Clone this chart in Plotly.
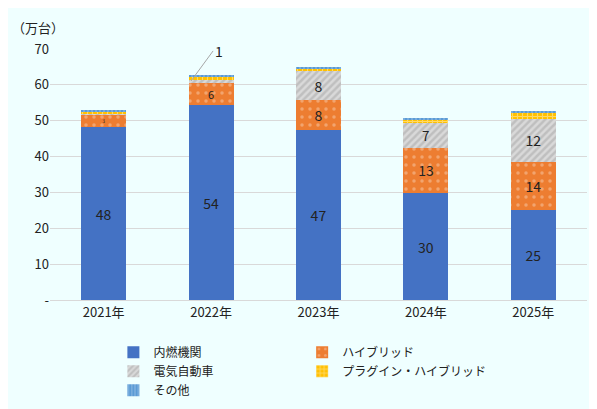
import plotly.graph_objects as go

years = ["2021年", "2022年", "2023年", "2024年", "2025年"]
ice = [48.2, 54.3, 47.5, 29.8, 25.1]
hev = [3.6, 6.1, 8.3, 12.7, 13.4]
bev = [0.1, 1.0, 8.0, 7.0, 12.1]
phev = [0.6, 1.0, 0.8, 0.8, 1.7]
other = [0.4, 0.4, 0.4, 0.4, 0.5]
ice_lbl = ["48", "54", "47", "30", "25"]
hev_lbl = ["3", "6", "8", "13", "14"]
bev_lbl = ["", "", "8", "7", "12"]
yticks = [0, 10, 20, 30, 40, 50, 60, 70]
ytext = ["-", "10", "20", "30", "40", "50", "60", "70"]

font = "Noto Sans CJK JP"
lbl = dict(textposition="inside", insidetextanchor="middle", textangle=0,
           textfont=dict(color="#222", size=14))
fig = go.Figure()
fig.add_bar(x=years, y=ice, name="内燃機関", marker_color="#4472C4", text=ice_lbl, **lbl)
fig.add_bar(x=years, y=hev, name="ハイブリッド", marker=dict(color="#ED7D31",
            pattern=dict(shape=".", fgcolor="#F8CBAD", size=8, solidity=0.15)), text=hev_lbl, **lbl)
fig.add_bar(x=years, y=bev, name="電気自動車", marker=dict(color="#D9D9D9",
            pattern=dict(shape="/", fgcolor="#A5A5A5", size=5, solidity=0.5)), text=bev_lbl, **lbl)
fig.add_bar(x=years, y=phev, name="プラグイン・ハイブリッド", marker=dict(color="#FFC000",
            pattern=dict(shape="+", fgcolor="#FFF2CC", size=5, solidity=0.4)))
fig.add_bar(x=years, y=other, name="その他", marker=dict(color="#5B9BD5",
            pattern=dict(shape="|", fgcolor="#BDD7EE", size=4, solidity=0.3)))
for t in fig.data:
    t.marker.line.width = 0
fig.add_annotation(x=years[1], y=ice[1] + hev[1] + bev[1] - 0.3, xshift=-20, ax=22, ay=-30,
                   text="1", showarrow=True, arrowhead=0, arrowcolor="#A6A6A6", arrowwidth=1,
                   font=dict(size=14, color="#222"), xanchor="left")
fig.add_annotation(xref="paper", yref="paper", x=-0.075, y=1.13, text="（万台）", showarrow=False,
                   xanchor="left", font=dict(size=13, color="#222"))
fig.update_layout(
    barmode="stack", width=597, height=409, bargap=0.58,
    paper_bgcolor="#EFFFFF", plot_bgcolor="#EFFFFF",
    font=dict(family=font, size=13, color="#222"),
    margin=dict(l=42, r=18, t=41, b=75),
    yaxis=dict(range=[0, 70], tickvals=yticks, ticktext=ytext, gridcolor="#D9D9D9", zeroline=False,
               ticks="", showline=False),
    xaxis=dict(showline=True, linecolor="#D9D9D9", ticks=""),
    legend=dict(orientation="h", x=0.47, xanchor="center", y=-0.15, yanchor="top",
                font=dict(size=12), itemwidth=30, traceorder="normal",
                entrywidthmode="pixels", tracegroupgap=0),
    showlegend=True,
)
fig.write_html("out.html")
